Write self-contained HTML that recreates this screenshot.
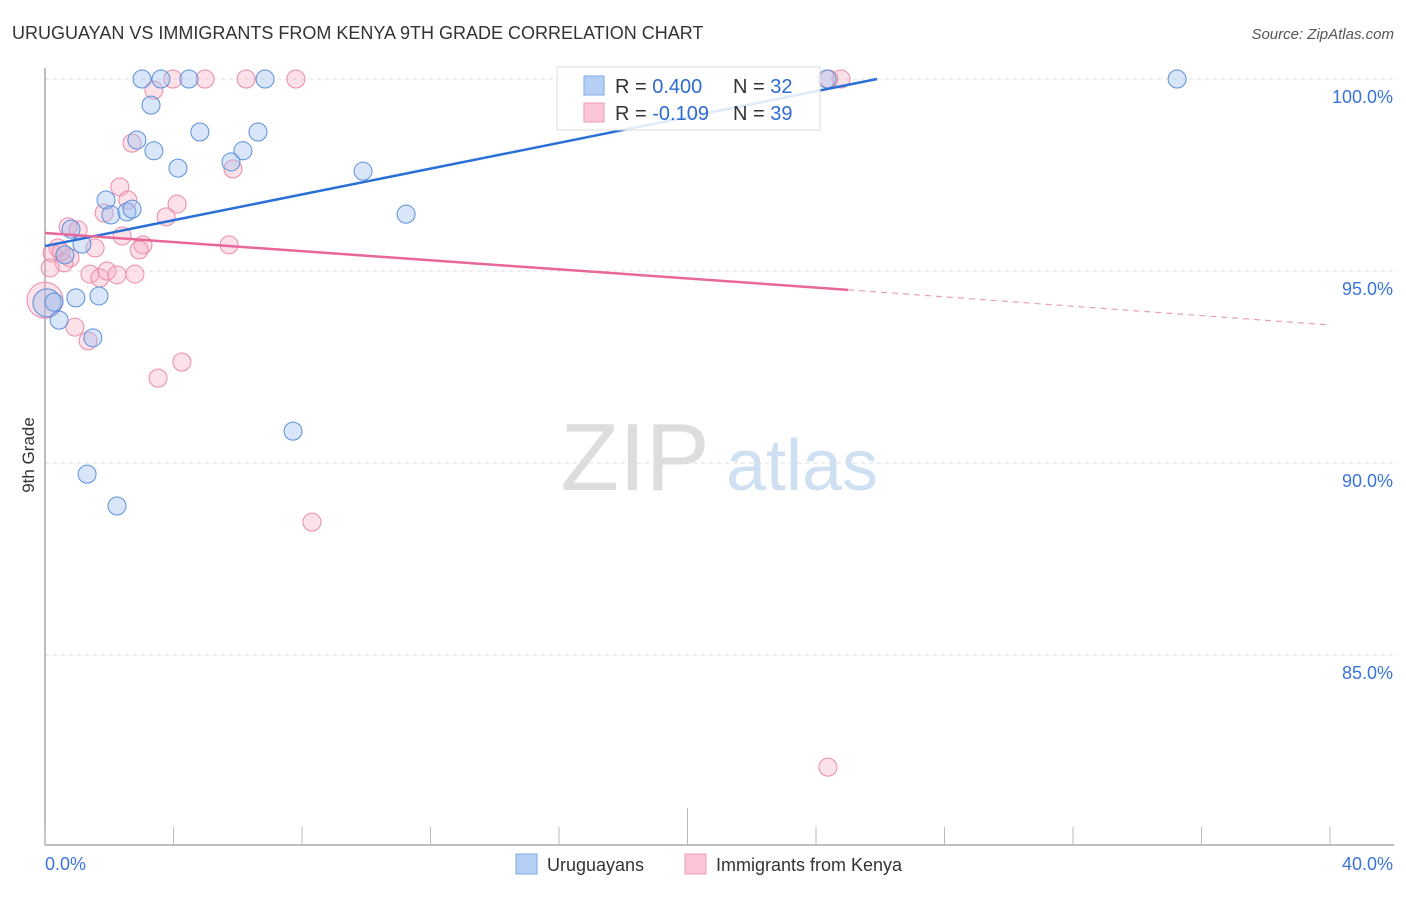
<!DOCTYPE html>
<html><head><meta charset="utf-8"><style>
body{margin:0;background:#fff;font-family:"Liberation Sans",sans-serif}
svg text{font-family:"Liberation Sans",sans-serif}
</style></head><body>
<svg id="chart" width="1406" height="892" xmlns="http://www.w3.org/2000/svg">
<text x="12" y="39" font-size="18" fill="#333">URUGUAYAN VS IMMIGRANTS FROM KENYA 9TH GRADE CORRELATION CHART</text>
<text x="1394" y="39" font-size="15" fill="#555" text-anchor="end" font-style="italic">Source: ZipAtlas.com</text>
<text transform="translate(34,455) rotate(-90)" font-size="17" fill="#333" text-anchor="middle">9th Grade</text>
<g>
<text x="635" y="490" font-size="96" fill="#ddd" text-anchor="middle" font-family="Liberation Serif">ZIP</text>
<text x="802" y="490" font-size="72" fill="#cfe0f3" text-anchor="middle">atlas</text>
</g>
<g id="grid"></g><g id="axes"></g><g id="pts"></g><g id="trend"></g>
<g>
<rect x="557" y="67" width="263" height="63" fill="#fff" fill-opacity="0.85" stroke="#ddd"/>
<rect x="584" y="76" width="20" height="19" fill="#b6d0f5" stroke="#7ea8e8"/>
<rect x="584" y="103" width="20" height="19" fill="#fbc6d5" stroke="#ee9ab3"/>
<text x="615" y="93" font-size="20" fill="#333">R = <tspan fill="#2f6cd0">0.400</tspan></text>
<text x="733" y="93" font-size="20" fill="#333">N = <tspan fill="#2f6cd0">32</tspan></text>
<text x="615" y="120" font-size="20" fill="#333">R = <tspan fill="#2f6cd0">-0.109</tspan></text>
<text x="733" y="120" font-size="20" fill="#333">N = <tspan fill="#2f6cd0">39</tspan></text>
</g>
<g>
<rect x="516" y="854" width="21" height="20" fill="#b6d0f5" stroke="#7ea8e8"/>
<text x="547" y="871" font-size="18" fill="#333">Uruguayans</text>
<rect x="685" y="854" width="21" height="20" fill="#fbc6d5" stroke="#ee9ab3"/>
<text x="716" y="871" font-size="18" fill="#333">Immigrants from Kenya</text>
</g>
</svg>
<script>
const blueX=[3.02,3.61,4.48,6.85,3.30,2.86,4.82,6.63,3.39,6.16,4.14,5.79,9.90,11.24,1.90,2.05,2.55,2.71,0.81,1.15,0.62,0.06,0.28,0.44,0.96,1.68,1.49,7.72,1.31,2.24,35.24,24.34];
const blueY=[100,100,100,100,99.32,98.41,98.62,98.62,98.13,98.13,97.68,97.84,97.60,96.48,96.85,96.46,96.54,96.61,96.09,95.70,95.42,94.17,94.19,93.72,94.30,94.35,93.26,90.83,89.71,88.88,100,100];
const blueR=[9,9,9,9,9,9,9,9,9,9,9,9,9,9,9,9,9,9,9,9,9,14,9,9,9,9,9,9,9,9,9,9];
const pinkX=[3.98,4.98,6.26,7.81,24.78,3.39,2.71,5.85,2.33,2.58,4.11,1.84,3.77,0.72,1.03,2.40,3.05,5.73,1.56,2.93,0.40,0.22,0.78,0.59,0.16,1.40,1.71,1.93,2.24,2.80,0.0,0.93,1.34,4.26,3.52,8.31,24.37,0.5,24.4];
const pinkY=[100,100,100,100,100,99.71,98.33,97.66,97.19,96.85,96.74,96.51,96.41,96.15,96.07,95.91,95.68,95.68,95.60,95.55,95.60,95.47,95.34,95.21,95.08,94.92,94.82,95.0,94.90,94.92,94.24,93.54,93.18,92.63,92.21,88.46,82.08,95.5,100];
const pinkR=[9,9,9,9,9,9,9,9,9,9,9,9,9,9,9,9,9,9,9,9,9,9,9,9,9,9,9,9,9,9,18,9,9,9,9,9,9,9,9];
const yTicks=[100,95,90,85];
const yTickLabels=["100.0%","95.0%","90.0%","85.0%"];
const xTicks=[0,4,8,12,16,20,24,28,32,36,40];
const blueTrend=[[0,95.65],[25.9,100]];
const pinkTrendSolid=[[0,95.99],[25.0,94.51]];
const pinkTrendDash=[[25.0,94.51],[39.9,93.6]];
const NS="http://www.w3.org/2000/svg";
const X=v=>45+v*32.125, Y=v=>79+(100-v)*38.4;
function mk(tag,attrs,parent){const e=document.createElementNS(NS,tag);for(const k in attrs)e.setAttribute(k,attrs[k]);parent.appendChild(e);return e;}
const grid=document.getElementById('grid'),axes=document.getElementById('axes'),pts=document.getElementById('pts'),trend=document.getElementById('trend');
yTicks.forEach((t,i)=>{
 const l=mk('line',{x1:45,x2:1394,y1:Y(t),y2:Y(t),stroke:'#ddd','stroke-dasharray':'4,4'},grid);
 
 
 const tx=mk('text',{x:1393,y:Y(t)+24,'font-size':18,fill:'#3a74d8','text-anchor':'end'},axes);
 tx.textContent=yTickLabels[i];
 
 
});
const ya=mk('line',{x1:45,x2:45,y1:68,y2:845,stroke:'#aaa','stroke-width':1.5},axes);


const xa=mk('line',{x1:45,x2:1394,y1:845,y2:845,stroke:'#aaa','stroke-width':1.5},axes);


xTicks.forEach(t=>{
 const tk=mk('line',{x1:X(t),x2:X(t),y1:t==20?808:827,y2:845,stroke:'#bbb'},axes);
 
 
});
const x0=mk('text',{x:45,y:870,'font-size':18,fill:'#3a74d8'},axes);x0.textContent='0.0%';


const x1=mk('text',{x:1393,y:870,'font-size':18,fill:'#3a74d8','text-anchor':'end'},axes);x1.textContent='40.0%';


pinkX.forEach((v,i)=>{
 const c=mk('circle',{cx:X(v),cy:Y(pinkY[i]),r:pinkR[i],fill:'#f7a8c0','fill-opacity':0.35,stroke:'#ec8aa8','stroke-width':1},pts);
 
 
});
blueX.forEach((v,i)=>{
 const c=mk('circle',{cx:X(v),cy:Y(blueY[i]),r:blueR[i],fill:'#9fc1ef','fill-opacity':0.4,stroke:'#5a8fdc','stroke-width':1},pts);
 
 
});
const bt=mk('line',{x1:X(blueTrend[0][0]),y1:Y(blueTrend[0][1]),x2:X(blueTrend[1][0]),y2:Y(blueTrend[1][1]),stroke:'#2a6fd6','stroke-width':2.5},trend);


const pt=mk('line',{x1:X(pinkTrendSolid[0][0]),y1:Y(pinkTrendSolid[0][1]),x2:X(pinkTrendSolid[1][0]),y2:Y(pinkTrendSolid[1][1]),stroke:'#e8679a','stroke-width':2.5},trend);


const pd=mk('line',{x1:X(pinkTrendDash[0][0]),y1:Y(pinkTrendDash[0][1]),x2:X(pinkTrendDash[1][0]),y2:Y(pinkTrendDash[1][1]),stroke:'#e8a0b8','stroke-width':1.2,'stroke-dasharray':'6,5'},trend);


</script>
</body></html>
